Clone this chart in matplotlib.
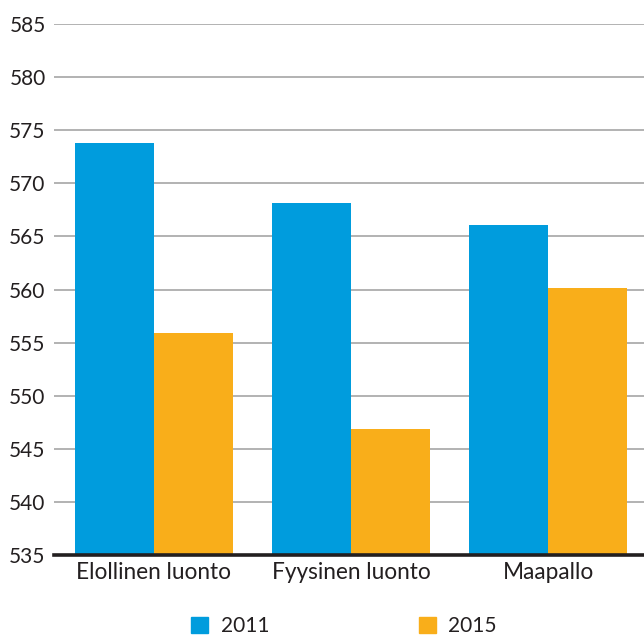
import numpy as np
import matplotlib
matplotlib.use("Agg")
import matplotlib.pyplot as plt
from matplotlib.patches import Patch

# data
categories = ["Elollinen luonto", "Fyysinen luonto", "Maapallo"]
vals_2011 = [573.8, 568.1, 566.1]
vals_2015 = [555.9, 546.9, 560.1]
series_names = ["2011", "2015"]
yticks = [535, 540, 545, 550, 555, 560, 565, 570, 575, 580, 585]

BLUE = "#009cdd"
ORANGE = "#f9ae1a"
TXT = "#231f20"

plt.rcParams["font.family"] = ["Lato", "DejaVu Sans"]

W, H = 644, 635
fig = plt.figure(figsize=(W / 100, H / 100), dpi=100)
ax = fig.add_axes([54 / W, (H - 555) / H, 590 / W, (555 - 24) / H])

x = np.arange(len(categories))
bw = 0.4
ax.bar(x - bw / 2, vals_2011, width=bw, color=BLUE, zorder=3)
ax.bar(x + bw / 2, vals_2015, width=bw, color=ORANGE, zorder=3)

ax.set_ylim(535, 585)
ax.set_xlim(-0.504, 2.484)
ax.set_yticks(yticks)
ax.set_yticklabels([str(t) for t in yticks])
ax.set_xticks(x)
ax.set_xticklabels(categories)
ax.tick_params(axis="both", length=0, labelcolor=TXT)
ax.tick_params(axis="y", pad=6, labelsize=15)
ax.tick_params(axis="x", pad=5, labelsize=16.3)

ax.yaxis.grid(True, color="#adadad", linewidth=1.3, zorder=0)
ax.set_axisbelow(True)
for s in ("top", "right", "left"):
    ax.spines[s].set_visible(False)
ax.spines["bottom"].set_color(TXT)
ax.spines["bottom"].set_linewidth(2.6)
ax.spines["bottom"].set_zorder(4)

handles = [Patch(color=BLUE), Patch(color=ORANGE)]
fig.legend(handles, series_names, loc="center", bbox_to_anchor=(344 / W, 9 / H),
           ncol=2, frameon=False, fontsize=15, labelcolor=TXT,
           handlelength=0.8, handleheight=0.8, handletextpad=0.6,
           columnspacing=7.2)

fig.savefig("out.png", dpi=100)
